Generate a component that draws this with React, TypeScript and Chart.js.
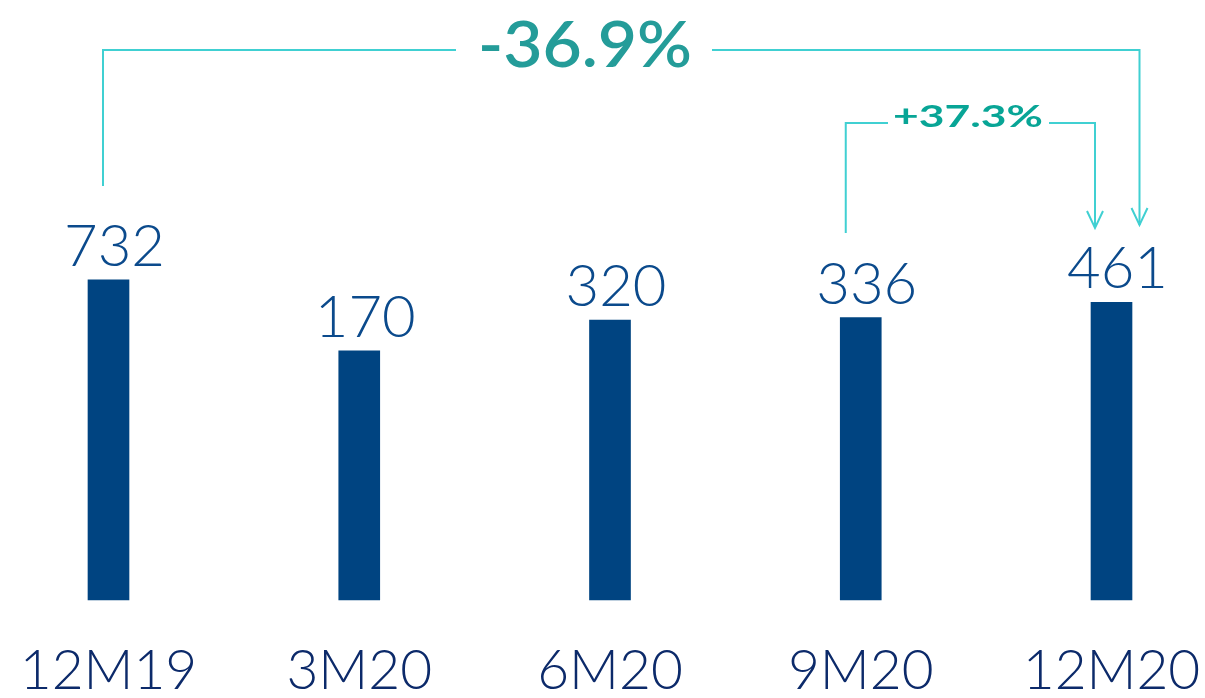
import React, { useEffect, useRef } from "react";
import { Chart, registerables } from "chart.js";

Chart.register(...registerables);

const categories = ["12M19", "3M20", "6M20", "9M20", "12M20"];
const values = [732, 170, 320, 336, 461];
const changeTotal = "-36.9%";
const changeLast = "+37.3%";

const BAR = "#004481";
const VALUE_COLOR = "#0b4a8c";
const AXIS_COLOR = "#0c2a6a";
const LINE = "#40d0d2";
const FONT = "Lato, 'Open Sans', sans-serif";

const annotations = {
  id: "annotations",
  afterDatasetsDraw(chart: any) {
    const ctx = chart.ctx;
    const xs = chart.scales.x;
    const ys = chart.scales.y;
    // value labels
    ctx.save();
    ctx.font = `300 58px ${FONT}`;
    ctx.fillStyle = VALUE_COLOR;
    ctx.textAlign = "center";
    ctx.textBaseline = "alphabetic";
    values.forEach((v, i) => {
      const x = xs.getPixelForValue(i);
      const y = ys.getPixelForValue(v);
      ctx.fillText(String(v), x + 6, y - 14);
    });
    ctx.restore();

    const arrow = (x: number, y: number) => {
      ctx.beginPath();
      ctx.moveTo(x - 8, y - 17);
      ctx.lineTo(x, y);
      ctx.lineTo(x + 8, y - 17);
      ctx.stroke();
    };

    ctx.save();
    ctx.strokeStyle = LINE;
    ctx.lineWidth = 2;
    // big bracket
    const x0 = xs.getPixelForValue(0) - 5.5;
    const x4 = xs.getPixelForValue(4) + 28;
    const yTop = 50;
    const tcx = 585;
    const tw = 214;
    ctx.beginPath();
    ctx.moveTo(x0, 186);
    ctx.lineTo(x0, yTop);
    ctx.lineTo(tcx - tw / 2 - 22, yTop);
    ctx.moveTo(tcx + tw / 2 + 20, yTop);
    ctx.lineTo(x4, yTop);
    ctx.lineTo(x4, 225);
    ctx.stroke();
    arrow(x4, 225);
    ctx.save();
    ctx.font = `600 64px ${FONT}`;
    const mw = ctx.measureText(changeTotal).width;
    ctx.fillStyle = "#249c99";
    ctx.textAlign = "center";
    ctx.textBaseline = "alphabetic";
    ctx.translate(tcx, 67);
    ctx.scale(tw / mw, 1);
    ctx.fillText(changeTotal, 0, 0);
    ctx.restore();

    // small bracket
    const x3 = xs.getPixelForValue(3) - 15;
    const x4b = xs.getPixelForValue(4) - 16.5;
    const y2 = 123;
    const tcx2 = 968;
    const targetW = 150;
    ctx.beginPath();
    ctx.moveTo(x3, 233);
    ctx.lineTo(x3, y2);
    ctx.lineTo(tcx2 - targetW / 2 - 5, y2);
    ctx.moveTo(tcx2 + targetW / 2 + 6, y2);
    ctx.lineTo(x4b, y2);
    ctx.lineTo(x4b, 228);
    ctx.stroke();
    arrow(x4b, 228);
    ctx.font = `700 31px ${FONT}`;
    const tw2 = ctx.measureText(changeLast).width;
    ctx.fillStyle = "#08a596";
    ctx.textAlign = "center";
    ctx.textBaseline = "alphabetic";
    ctx.translate(tcx2, 127);
    ctx.scale(targetW / tw2, 1);
    ctx.fillText(changeLast, 0, 0);
    ctx.restore();
  },
};

export default function App() {
  const ref = useRef<HTMLCanvasElement>(null);
  useEffect(() => {
    if (!ref.current) return;
    const chart = new Chart(ref.current, {
      type: "bar",
      data: {
        labels: categories,
        datasets: [
          {
            data: values,
            backgroundColor: BAR,
            barThickness: 41,
            clip: false as any,
          },
        ],
      },
      options: {
        animation: false,
        responsive: true,
        maintainAspectRatio: false,
        layout: { padding: { left: 108.5, right: 93.5, top: 153, bottom: 0 } },
        plugins: { legend: { display: false }, tooltip: { enabled: false } },
        scales: {
          x: {
            offset: false,
            grid: { display: false, drawTicks: false },
            border: { display: false },
            afterFit: (scale: any) => {
              scale.paddingLeft = 0;
              scale.paddingRight = 0;
            },
            ticks: {
              color: AXIS_COLOR,
              padding: 54.1,
              font: { family: FONT, size: 55, weight: "300" as any, lineHeight: 0.633 },
              maxRotation: 0,
              autoSkip: false,
            },
          },
          y: {
            type: "logarithmic",
            display: false,
            min: 1,
            max: 10000,
          },
        },
      },
      plugins: [annotations],
    });
    return () => chart.destroy();
  }, []);
  return (
    <div style={{ position: "fixed", left: 0, top: 0, width: 1205, height: 698, overflow: "hidden", background: "#fff" }}>
      <div style={{ position: "absolute", left: 0, top: 0, width: 1205, height: 743 }}>
        <canvas ref={ref} />
      </div>
    </div>
  );
}
